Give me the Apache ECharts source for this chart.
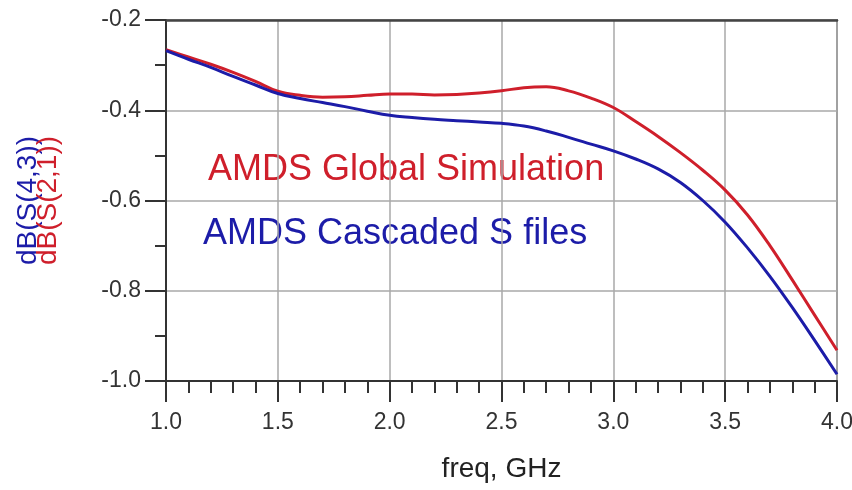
<!DOCTYPE html>
<html>
<head>
<meta charset="utf-8">
<script src="https://cdn.jsdelivr.net/npm/echarts@6/dist/echarts.min.js"></script>
<style>
  html, body { margin: 0; padding: 0; background: #fff; }
  #chart { width: 852px; height: 490px; }
</style>
</head>
<body>
<div id="chart"></div>
<script>
// frequency points, GHz
const freq = [1.0, 1.1, 1.2, 1.3, 1.4, 1.5, 1.6, 1.7, 1.8, 1.9, 2.0,
  2.1, 2.2, 2.3, 2.4, 2.5, 2.6, 2.7, 2.8, 2.9, 3.0,
  3.1, 3.2, 3.3, 3.4, 3.5, 3.6, 3.7, 3.8, 3.9, 4.0]

// dB(S(2,1)) - global simulation
const s21 = [-0.266, -0.282, -0.298, -0.316, -0.336, -0.358, -0.367, -0.371, -0.370, -0.367, -0.364,
  -0.364, -0.366, -0.365, -0.362, -0.357, -0.350, -0.348, -0.357, -0.373, -0.394,
  -0.425, -0.458, -0.494, -0.533, -0.577, -0.632, -0.700, -0.776, -0.854, -0.932]

// dB(S(4,3)) - cascaded S files
const s43 = [-0.268, -0.287, -0.305, -0.325, -0.344, -0.363, -0.374, -0.383, -0.392, -0.402, -0.411,
  -0.416, -0.420, -0.423, -0.426, -0.429, -0.435, -0.446, -0.460, -0.475, -0.490,
  -0.508, -0.530, -0.560, -0.600, -0.648, -0.705, -0.768, -0.837, -0.910, -0.985]

const xTicks = [1.0, 1.5, 2.0, 2.5, 3.0, 3.5, 4.0]
const yTicks = [-1.0, -0.8, -0.6, -0.4, -0.2]

const RED = '#cf1f2b'
const BLUE = '#1c1ca8'

const chart = echarts.init(document.getElementById('chart'))

const pair = (xs, ys) => xs.map((x, i) => [x, ys[i]])

chart.setOption({
  backgroundColor: '#fff',
  animation: false,
  grid: {
    left: 166, right: 15, top: 20, bottom: 109,
    outerBoundsMode: 'none',
    show: true, borderColor: '#8a8a8a', borderWidth: 2
  },
  xAxis: [{
    type: 'value',
    min: xTicks[0], max: xTicks[xTicks.length - 1], interval: 0.5,
    name: 'freq, GHz',
    nameLocation: 'middle',
    nameGap: 74,
    nameTextStyle: { fontFamily: 'Liberation Sans', fontSize: 28, color: '#222' },
    axisLine: { onZero: false, lineStyle: { color: '#333', width: 2 } },
    axisTick: { show: true, inside: false, length: 21, lineStyle: { color: '#333', width: 2 } },
    minorTick: { show: true, splitNumber: 5, length: 12, lineStyle: { color: '#333', width: 2 } },
    axisLabel: {
      margin: 30, fontFamily: 'Liberation Sans', fontSize: 23, color: '#333',
      formatter: v => v.toFixed(1)
    },
    splitLine: { show: true, lineStyle: { color: '#a8a8a8', width: 1.5 } }
  }, {
    type: 'value', position: 'top',
    min: xTicks[0], max: xTicks[xTicks.length - 1],
    axisLine: { show: true, lineStyle: { color: '#444', width: 2.5 } },
    axisTick: { show: false }, axisLabel: { show: false }, splitLine: { show: false }
  }],
  yAxis: {
    type: 'value',
    min: yTicks[0], max: yTicks[yTicks.length - 1], interval: 0.2,
    name: '{b|dB(S(4,3))}\n{r|dB(S(2,1))}',
    nameLocation: 'middle',
    nameRotate: 90,
    nameGap: 108,
    nameTextStyle: {
      fontFamily: 'Liberation Sans', fontSize: 28, lineHeight: 20,
      rich: {
        b: { color: BLUE, fontSize: 28, fontFamily: 'Liberation Sans', lineHeight: 20 },
        r: { color: RED, fontSize: 28, fontFamily: 'Liberation Sans', lineHeight: 20 }
      }
    },
    axisLine: { show: true, lineStyle: { color: '#333', width: 2 } },
    axisTick: { show: true, inside: false, length: 21, lineStyle: { color: '#333', width: 2 } },
    minorTick: { show: true, splitNumber: 2, length: 11, lineStyle: { color: '#333', width: 2 } },
    axisLabel: {
      margin: 25, fontFamily: 'Liberation Sans', fontSize: 23, color: '#333',
      formatter: v => v.toFixed(1)
    },
    splitLine: { show: true, lineStyle: { color: '#a8a8a8', width: 1.5 } }
  },
  graphic: [{
    type: 'text', left: 208, top: 152,
    style: { text: 'AMDS Global Simulation', fill: RED, font: '36px "Liberation Sans"' }
  }, {
    type: 'text', left: 203, top: 216,
    style: { text: 'AMDS Cascaded S files', fill: BLUE, font: '36px "Liberation Sans"' }
  }],
  series: [{
    name: 'dB(S(2,1))', type: 'line', smooth: 0.4, showSymbol: false,
    data: pair(freq, s21),
    lineStyle: { color: RED, width: 3 }, z: 3
  }, {
    name: 'dB(S(4,3))', type: 'line', smooth: 0.4, showSymbol: false,
    data: pair(freq, s43),
    lineStyle: { color: BLUE, width: 3 }, z: 4
  }]
})
</script>
</body>
</html>
